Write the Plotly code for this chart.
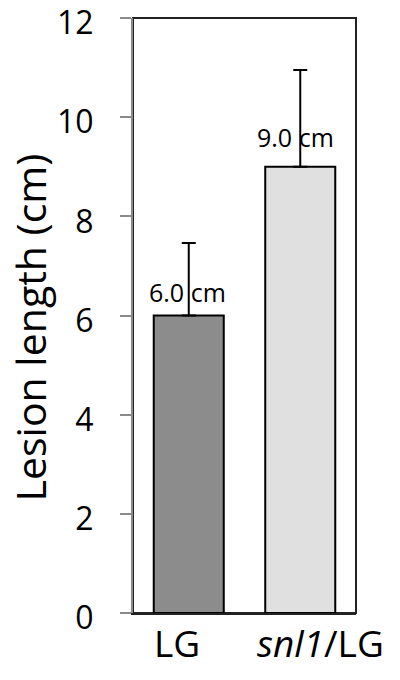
import plotly.graph_objects as go

# ---- data ----
categories = ["LG", "snl1/LG"]
category_labels = ["LG", "<i>snl1</i>/LG"]
lesion_length = [6.0, 9.0]
error_plus = [1.46, 1.95]
value_labels = ["6.0 cm", "9.0 cm"]
bar_colors = ["#8c8c8c", "#e0e0e0"]
y_ticks = [0, 2, 4, 6, 8, 10, 12]

FONT = "Open Sans"

fig = go.Figure()
fig.add_trace(go.Bar(
    x=categories,
    y=lesion_length,
    marker=dict(color=bar_colors, line=dict(color="black", width=2)),
    error_y=dict(type="data", symmetric=False, array=error_plus,
                 arrayminus=[0, 0], color="black", thickness=2, width=7),
    showlegend=False,
    hoverinfo="skip",
))

# value labels above bars
label_xshift = [-1, -5]
label_yshift = [5, 11]
for c, v, t, xs, ys in zip(categories, lesion_length, value_labels, label_xshift, label_yshift):
    fig.add_annotation(x=c, y=v, text=t, showarrow=False, xanchor="center",
                       yanchor="bottom", xshift=xs, yshift=ys,
                       font=dict(family=FONT, size=25, color="black"))

# category labels under the axis
cat_xshift = [-12, 20]
for c, lab, xs in zip(categories, category_labels, cat_xshift):
    fig.add_annotation(x=c, y=0, yref="paper", text=lab, showarrow=False,
                       xanchor="center", yanchor="top", xshift=xs, yshift=-2,
                       font=dict(family=FONT, size=37, color="black"))

# y axis title
fig.add_annotation(x=0, y=0.48, xref="paper", yref="paper",
                   text="Lesion length (cm)", textangle=-90, showarrow=False,
                   xanchor="center", yanchor="middle", xshift=-103,
                   font=dict(family=FONT, size=41, color="black"))

# plot frame
fig.add_shape(type="rect", xref="paper", yref="paper", x0=0, y0=0, x1=1, y1=1,
              line=dict(color="#222222", width=2), layer="below")

fig.update_layout(
    width=400, height=680,
    margin=dict(l=133, r=44, t=18, b=67),
    paper_bgcolor="white", plot_bgcolor="white",
    bargap=0.372,
    xaxis=dict(range=[-0.5, 1.5], autorange=False, showticklabels=False,
               showgrid=False, zeroline=False, automargin=False,
               showline=True, linecolor="#222222", linewidth=2, ticks=""),
    yaxis=dict(range=[0, 12], autorange=False, tickvals=y_ticks, showgrid=False,
               zeroline=False, automargin=False,
               showline=True, linecolor="#8a8a8a", linewidth=2,
               ticks="outside", ticklen=11, tickwidth=1.5, tickcolor="#8a8a8a",
               ticklabelstandoff=20, ticklabeloverflow="allow",
               ticklabelshift=5,
               tickfont=dict(family=FONT, size=32, color="black")),
)

fig.write_html("out.html")
